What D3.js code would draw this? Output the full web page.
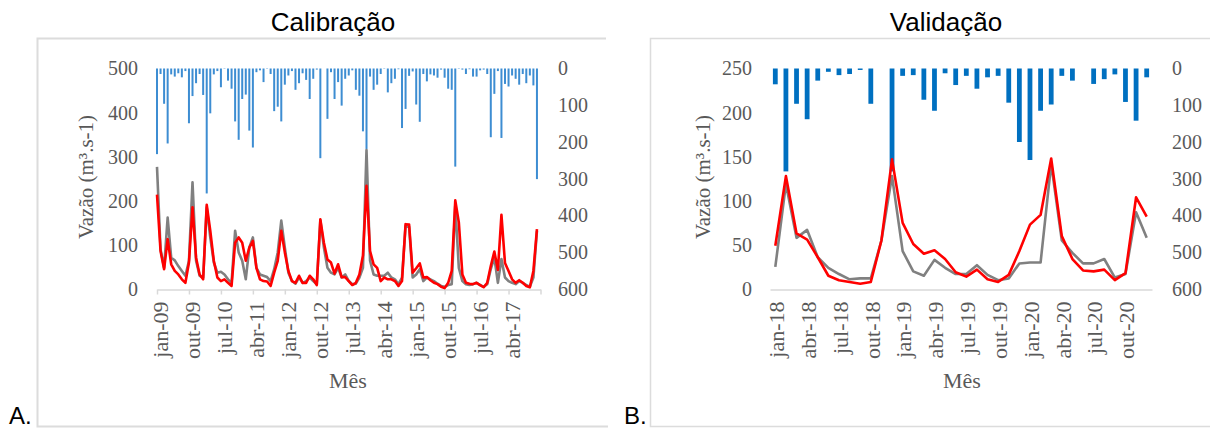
<!DOCTYPE html>
<html>
<head>
<meta charset="utf-8">
<script src="https://cdn.jsdelivr.net/npm/d3@7"></script>
<style>
    body { margin: 0; background: #fff; }
</style>
</head>
<body>
<script>
(function(){

    //month names and years for the two periods
    var mesesPt = ["jan","fev","mar","abr","mai","jun","jul","ago","set","out","nov","dez"];
    var anosCal = ["09","10","11","12","13","14","15","16","17"];
    var anosVal = ["18","19","20"];

    //calibration (jan-09 .. dez-17): precipitation (mm), observed and simulated flow (m3/s)
    var precCal = [233,15,96,204,16,22,13,24,7,149,75,40,15,72,340,122,16,7,51,1,33,55,144,194,83,71,169,215,10,5,37,1,15,116,104,144,
                   44,19,7,58,40,13,31,83,28,3,244,0,137,10,83,37,101,28,19,5,58,74,171,219,22,58,44,15,1,65,40,28,2,162,110,20,
                   8,98,145,15,35,16,19,25,3,25,55,58,267,1,3,15,2,22,22,5,3,15,187,69,7,189,42,49,19,28,44,15,40,19,46,301];
    var obsCal = [277,90,48,162,71,65,52,41,30,64,242,64,30,26,185,117,60,37,39,33,22,14,132,83,64,22,94,117,48,33,30,27,18,45,83,155,
                  94,37,18,12,26,14,18,26,18,11,156,94,48,37,33,48,26,33,18,11,12,26,48,315,64,33,30,30,30,37,26,22,11,26,143,141,
                  26,33,45,18,26,22,18,12,7,5,9,11,190,48,18,11,9,11,14,9,5,11,45,71,14,68,26,18,14,11,18,14,9,5,26,132];
    var simCal = [214,86,45,113,56,41,33,22,14,60,185,71,33,22,191,132,64,26,18,22,14,7,105,117,105,64,94,109,48,22,18,17,7,37,64,132,
                  83,41,18,14,30,14,14,30,22,9,158,105,67,60,35,56,27,27,18,9,14,33,76,234,86,56,48,18,26,22,22,18,7,18,147,146,
                  37,47,58,26,27,20,14,11,5,2,14,41,201,151,33,14,12,11,14,9,4,14,52,85,43,168,59,41,22,14,20,14,7,4,41,136];

    //validation (jan-18 .. dez-20)
    var precVal = [43,280,96,138,33,9,18,15,4,96,0,280,20,18,85,115,13,45,20,55,24,20,93,200,249,115,98,20,33,0,42,29,16,91,142,24];
    var obsVal = [25,119,58,67,36,24,17,11,12,12,55,128,43,20,15,33,24,17,17,27,16,10,12,29,30,30,142,55,41,29,29,34,13,17,87,58];
    var simVal = [49,128,63,56,36,15,10,8,6,8,55,147,75,51,40,44,34,19,14,22,11,8,16,43,73,84,148,60,34,21,20,22,10,18,104,82];

    var precTicks = [0,100,200,300,400,500,600];

    //build month categories like "jan-09"
    function makeMonths(anos){
        var out = [];
        anos.forEach(function(a){
            mesesPt.forEach(function(m){ out.push(m + "-" + a); });
        });
        return out;
    };

    var mesesCal = makeMonths(anosCal),
        mesesVal = makeMonths(anosVal);

    var svg = d3.select("body")
        .append("svg")
        .attr("width", 1210)
        .attr("height", 430);

    var serif = "'Liberation Serif', 'Times New Roman', serif",
        sans = "'Liberation Sans', Arial, sans-serif",
        grey = "#595959",
        frame = "#DCDCDC";

    //panel frames (cropped boxes)
    svg.append("path")
        .attr("d", "M606,38.5H37.5V426.5H608")
        .attr("fill", "none")
        .attr("stroke", frame)
        .attr("stroke-width", 2);
    svg.append("path")
        .attr("d", "M1210,38.5H650.5V426.5H1210")
        .attr("fill", "none")
        .attr("stroke", frame)
        .attr("stroke-width", 1.5);

    //panel letters
    svg.append("text").attr("x", 9).attr("y", 424)
        .style("font-family", sans).style("font-size", "24px").text("A.");
    svg.append("text").attr("x", 624).attr("y", 424)
        .style("font-family", sans).style("font-size", "24px").text("B.");

    var top = 68.5, bottom = 289;

    //---------- Calibração ----------
    drawTitle(333, "Calibração");

    var xCal = d3.scaleLinear().domain([0, 108]).range([157, 540.5]);
    var yCal = d3.scaleLinear().domain([0, 500]).range([bottom, top]);
    var pCal = d3.scaleLinear().domain([0, 600]).range([top, bottom]);

    drawLeftAxis(yCal, [0,100,200,300,400,500], 141);
    drawRightAxis(pCal, 555);

    svg.append("g").selectAll("rect")
        .data(precCal)
        .enter()
        .append("rect")
        .attr("x", function(d, i){ return xCal(i) - 1; })
        .attr("y", pCal(0))
        .attr("width", 2)
        .attr("height", function(d){ return pCal(d) - pCal(0); })
        .attr("fill", "#3D8DD2");

    var xAxisCal = svg.append("g")
        .attr("transform", "translate(0," + (bottom + 0.5) + ")")
        .call(d3.axisBottom(xCal)
            .tickValues(d3.range(0, 109, 9))
            .tickSize(5)
            .tickSizeOuter(0)
            .tickFormat(function(i){ return mesesCal[i] || ""; }));
    styleXAxis(xAxisCal, 3);

    drawLine(obsCal, xCal, yCal, "#808080", 2.6);
    drawLine(simCal, xCal, yCal, "#FF0000", 2.6);

    drawAxisTitles(86, 348);

    //---------- Validação ----------
    drawTitle(946, "Validação");

    var xVal = d3.scaleBand().domain(d3.range(36)).range([770, 1152]).padding(0);
    var yVal = d3.scaleLinear().domain([0, 250]).range([bottom, top]);
    var pVal = d3.scaleLinear().domain([0, 600]).range([top, bottom]);

    drawLeftAxis(yVal, [0,50,100,150,200,250], 755);
    drawRightAxis(pVal, 1169);

    svg.append("g").selectAll("rect")
        .data(precVal)
        .enter()
        .append("rect")
        .attr("x", function(d, i){ return xVal(i) + xVal.bandwidth() / 2 - 2.4; })
        .attr("y", pVal(0))
        .attr("width", 4.8)
        .attr("height", function(d){ return pVal(d) - pVal(0); })
        .attr("fill", "#0070C0");

    var xAxisVal = svg.append("g")
        .attr("transform", "translate(0," + (bottom + 0.5) + ")")
        .call(d3.axisBottom(xVal)
            .tickValues(d3.range(0, 36, 3))
            .tickSize(0)
            .tickSizeOuter(0)
            .tickFormat(function(i){ return mesesVal[i]; }));
    styleXAxis(xAxisVal, 1);

    var xValMid = function(i){ return xVal(i) + xVal.bandwidth() / 2; };
    drawLine(obsVal, xValMid, yVal, "#808080", 2.6);
    drawLine(simVal, xValMid, yVal, "#FF0000", 2.6);

    drawAxisTitles(703, 962);

    //helpers
    function drawTitle(cx, txt){
        svg.append("text")
            .attr("x", cx)
            .attr("y", 31)
            .attr("text-anchor", "middle")
            .style("font-family", sans)
            .style("font-size", "26px")
            .style("fill", "#000")
            .text(txt);
    };

    function styleTicks(g, size){
        g.selectAll(".tick text")
            .style("font-family", serif)
            .style("font-size", size)
            .style("fill", grey);
    };

    function drawLeftAxis(scale, ticks, xPos){
        var g = svg.append("g")
            .attr("transform", "translate(" + xPos + ",0)")
            .call(d3.axisLeft(scale).tickValues(ticks).tickSize(0).tickPadding(3));
        g.select(".domain").remove();
        styleTicks(g, "20px");
    };

    function drawRightAxis(scale, xPos){
        var g = svg.append("g")
            .attr("transform", "translate(" + xPos + ",0)")
            .call(d3.axisRight(scale).tickValues(precTicks).tickSize(0).tickPadding(3));
        g.select(".domain").remove();
        styleTicks(g, "20px");
    };

    function styleXAxis(g, shift){
        g.select(".domain").attr("stroke", "#D9D9D9").attr("stroke-width", 1.5);
        g.selectAll(".tick line").attr("stroke", "#D9D9D9").attr("stroke-width", 1.5);
        styleTicks(g, "22px");
        g.selectAll(".tick text")
            .attr("transform", "rotate(-90)")
            .attr("text-anchor", "end")
            .attr("x", -12)
            .attr("y", shift)
            .attr("dy", "0.35em");
    };

    function drawLine(values, xs, ys, color, w){
        var line = d3.line()
            .x(function(d, i){ return xs(i); })
            .y(function(d){ return ys(d); });
        svg.append("path")
            .datum(values)
            .attr("fill", "none")
            .attr("stroke", color)
            .attr("stroke-width", w)
            .attr("stroke-linejoin", "round")
            .attr("d", line);
    };

    function drawAxisTitles(yLabelX, xLabelX){
        svg.append("text")
            .attr("transform", "translate(" + yLabelX + ",177) rotate(-90)")
            .attr("text-anchor", "middle")
            .attr("dy", "0.35em")
            .style("font-family", serif)
            .style("font-size", "21px")
            .style("fill", grey)
            .text("Vazão (m³.s-1)");
        svg.append("text")
            .attr("x", xLabelX)
            .attr("y", 388)
            .attr("text-anchor", "middle")
            .style("font-family", serif)
            .style("font-size", "22px")
            .style("fill", grey)
            .text("Mês");
    };

})();
</script>
</body>
</html>
